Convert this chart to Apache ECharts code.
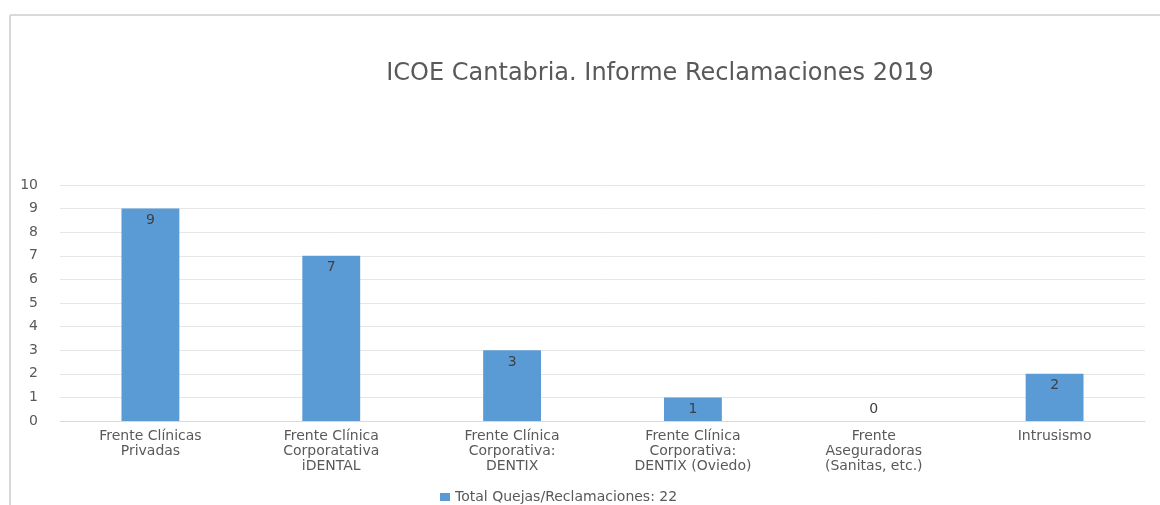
<!DOCTYPE html>
<html>
<head>
<meta charset="utf-8">
<script src="https://cdn.jsdelivr.net/npm/echarts@6/dist/echarts.min.js"></script>
<style>
  html, body { margin: 0; padding: 0; background: #fff; }
  #chart { width: 1160px; height: 505px; }
</style>
</head>
<body>
<div id="chart"></div>
<script>
const categories = [
  'Frente Clínicas\nPrivadas',
  'Frente Clínica\nCorporatativa\niDENTAL',
  'Frente Clínica\nCorporativa:\nDENTIX',
  'Frente Clínica\nCorporativa:\nDENTIX (Oviedo)',
  'Frente\nAseguradoras\n(Sanitas, etc.)',
  'Intrusismo'
]
const values = [9, 7, 3, 1, 0, 2]
const seriesName = 'Total Quejas/Reclamaciones: 22'
const titleText = 'ICOE Cantabria. Informe Reclamaciones 2019'

const font = "'DejaVu Sans', Verdana, sans-serif"
const chart = echarts.init(document.getElementById('chart'))

chart.setOption({
  animation: false,
  title: {
    text: titleText,
    left: 655,
    top: 57,
    textAlign: 'center',
    textStyle: { fontFamily: font, fontSize: 24, fontWeight: 'normal', color: '#595959' }
  },
  graphic: [
    { type: 'line', shape: { x1: 10, y1: 15, x2: 1160, y2: 15 }, style: { stroke: '#d9d9d9', lineWidth: 2 } },
    { type: 'line', shape: { x1: 10, y1: 15, x2: 10, y2: 505 }, style: { stroke: '#d9d9d9', lineWidth: 2 } }
  ],
  legend: {
    data: [seriesName],
    left: 435,
    top: 485,
    icon: 'rect',
    itemWidth: 10,
    itemHeight: 8,
    itemGap: 6,
    textStyle: { fontFamily: font, fontSize: 14, color: '#595959' }
  },
  grid: { left: 60, right: 15, top: 185, bottom: 84, containLabel: false },
  xAxis: {
    type: 'category',
    data: categories,
    axisLine: { lineStyle: { color: '#d9d9d9' } },
    axisTick: { show: false },
    axisLabel: {
      fontFamily: font, fontSize: 14, color: '#595959', lineHeight: 15,
      margin: 8, interval: 0
    }
  },
  yAxis: {
    type: 'value',
    min: 0,
    max: 10,
    interval: 1,
    axisLine: { show: false },
    axisTick: { show: false },
    splitLine: { lineStyle: { color: '#e6e6e6' } },
    axisLabel: { fontFamily: font, fontSize: 14, color: '#595959', margin: 22 }
  },
  series: [{
    name: seriesName,
    type: 'bar',
    barWidth: '32%',
    itemStyle: { color: '#5b9bd5' },
    data: values.map(v => ({
      value: v,
      label: { position: v === 0 ? 'top' : 'insideTop' }
    })),
    label: {
      show: true,
      distance: 5,
      fontFamily: font,
      fontSize: 14,
      color: '#404040'
    }
  }]
})

window.addEventListener('resize', () => chart.resize())
</script>
</body>
</html>
